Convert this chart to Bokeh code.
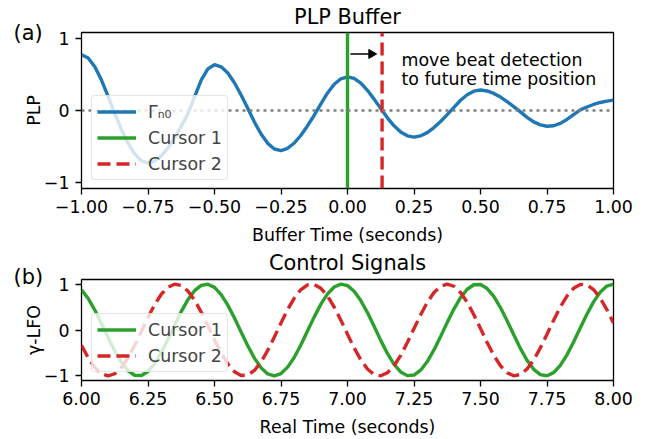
import numpy as np
from bokeh.plotting import figure
from bokeh.layouts import column
from bokeh.models import (Range1d, FixedTicker, Legend, LegendItem, Title, Span)
from bokeh.core.properties import value
from bokeh.embed import file_html
from bokeh.resources import INLINE

FONT = "DejaVu Sans"

# ---------------- data: (a) PLP buffer ----------------
buffer_time = np.linspace(-1.0, 1.0, 81)
plp = [0.780, 0.734, 0.611, 0.426, 0.197, -0.045, -0.264, -0.456, -0.606, -0.702,
       -0.735, -0.706, -0.634, -0.522, -0.381, -0.219, -0.048, 0.192, 0.423, 0.581,
       0.640, 0.611, 0.524, 0.387, 0.217, 0.031, -0.160, -0.329, -0.459, -0.538,
       -0.560, -0.528, -0.454, -0.346, -0.212, -0.066, 0.093, 0.245, 0.366, 0.443,
       0.471, 0.448, 0.382, 0.282, 0.159, 0.027, -0.102, -0.214, -0.300, -0.354,
       -0.371, -0.354, -0.309, -0.239, -0.153, -0.058, 0.043, 0.143, 0.221, 0.270,
       0.286, 0.273, 0.239, 0.188, 0.124, 0.054, -0.020, -0.096, -0.159, -0.201,
       -0.220, -0.213, -0.180, -0.125, -0.057, 0.009, 0.049, 0.084, 0.112, 0.131,
       0.145]
cursor1_pos = 0.0
cursor2_pos = 0.13

# ---------------- data: (b) control signals ----------------
real_time = np.linspace(6.0, 8.0, 81)
lfo_cursor1 = [0.875, 0.687, 0.435, 0.141, -0.166, -0.457, -0.705, -0.887, -0.985, -0.991,
               -0.903, -0.731, -0.489, -0.202, 0.105, 0.401, 0.660, 0.857, 0.973, 0.997,
               0.928, 0.771, 0.542, 0.262, -0.043, -0.344, -0.612, -0.823, -0.957, -1.000,
               -0.949, -0.809, -0.593, -0.321, -0.018, 0.286, 0.563, 0.787, 0.937, 0.999,
               0.967, 0.844, 0.641, 0.379, 0.080, -0.226, -0.511, -0.748, -0.914, -0.994,
               -0.981, -0.875, -0.687, -0.435, -0.141, 0.166, 0.457, 0.705, 0.887, 0.985,
               0.991, 0.903, 0.731, 0.489, 0.202, -0.105, -0.401, -0.660, -0.857, -0.973,
               -0.997, -0.928, -0.771, -0.542, -0.262, 0.043, 0.344, 0.612, 0.823, 0.957,
               1.000]
lfo_cursor2 = [-0.332, -0.603, -0.816, -0.953, -1.000, -0.953, -0.816, -0.603, -0.332, -0.031,
               0.274, 0.552, 0.779, 0.932, 0.998, 0.970, 0.850, 0.651, 0.390, 0.092,
               -0.214, -0.500, -0.739, -0.908, -0.992, -0.983, -0.881, -0.696, -0.446, -0.153,
               0.153, 0.446, 0.696, 0.881, 0.983, 0.992, 0.908, 0.739, 0.500, 0.214,
               -0.092, -0.390, -0.651, -0.850, -0.970, -0.998, -0.932, -0.779, -0.552, -0.274,
               0.031, 0.332, 0.603, 0.816, 0.953, 1.000, 0.953, 0.816, 0.603, 0.332,
               0.031, -0.274, -0.552, -0.779, -0.932, -0.998, -0.970, -0.850, -0.651, -0.390,
               -0.092, 0.214, 0.500, 0.739, 0.908, 0.992, 0.983, 0.881, 0.696, 0.446,
               0.153]

# ---------------- ticks ----------------
buffer_ticks = [-1.0, -0.75, -0.5, -0.25, 0.0, 0.25, 0.5, 0.75, 1.0]
buffer_tick_labels = ["\u22121.00", "\u22120.75", "\u22120.50", "\u22120.25", "0.00",
                      "0.25", "0.50", "0.75", "1.00"]
real_ticks = [6.0, 6.25, 6.5, 6.75, 7.0, 7.25, 7.5, 7.75, 8.0]
real_tick_labels = ["6.00", "6.25", "6.50", "6.75", "7.00", "7.25", "7.50", "7.75", "8.00"]
y_ticks = [-1, 0, 1]
y_tick_labels = ["\u22121", "0", "1"]

BLUE = "#1f77b4"
GREEN = "#2ca02c"
RED = "#d62728"
LW = 3.4
TICK_FS = "17.4px"
TITLE_FS = "20.9px"


def add_titles(p, panel_text, title_text, panel_standoff, title_standoff):
    # first added sits closest to the frame
    t_panel = Title(text=panel_text, align="left", offset=-68, standoff=panel_standoff,
                    text_font=FONT, text_font_size=TITLE_FS, text_font_style="normal",
                    text_color="black")
    p.add_layout(t_panel, "above")
    t_main = Title(text=title_text, align="center", standoff=title_standoff,
                   text_font=FONT, text_font_size=TITLE_FS, text_font_style="normal",
                   text_color="black")
    p.add_layout(t_main, "above")


def style(p, xlabel, ylabel, xticks, xlabels):
    p.xaxis.axis_label = xlabel
    p.yaxis.axis_label = ylabel
    for ax in (p.xaxis[0], p.yaxis[0]):
        ax.axis_label_text_font = FONT
        ax.axis_label_text_font_size = TICK_FS
        ax.axis_label_text_font_style = "normal"
        ax.major_label_text_font = FONT
        ax.major_label_text_font_size = TICK_FS
        ax.major_tick_out = 6
        ax.major_tick_in = 0
        ax.minor_tick_out = 0
        ax.minor_tick_in = 0
        ax.axis_line_color = None
        ax.major_tick_line_width = 1.3
        ax.major_tick_line_color = "black"
        ax.major_label_text_color = "black"
        ax.axis_label_text_color = "black"
    p.xaxis[0].major_label_standoff = 5
    p.xaxis[0].axis_label_standoff = 9
    p.yaxis[0].major_label_standoff = 6
    p.yaxis[0].axis_label_standoff = -3
    p.xaxis[0].ticker = FixedTicker(ticks=xticks)
    p.xaxis[0].major_label_overrides = dict(zip(xticks, xlabels))
    p.yaxis[0].ticker = FixedTicker(ticks=y_ticks)
    p.yaxis[0].major_label_overrides = dict(zip(y_ticks, y_tick_labels))
    p.xgrid.visible = False
    p.ygrid.visible = False
    p.outline_line_color = "black"
    p.outline_line_width = 1.3
    p.outline_line_alpha = 1.0
    p.background_fill_color = "white"
    p.border_fill_color = "white"


def make_legend(items):
    lg = Legend(items=items, location=(10, 8))
    lg.label_text_font = FONT
    lg.label_text_font_size = TICK_FS
    lg.glyph_width = 39
    lg.glyph_height = 21
    lg.label_height = 21
    lg.label_standoff = 12
    lg.spacing = 5
    lg.padding = 5
    lg.margin = 0
    lg.border_line_color = "#cccccc"
    lg.border_line_width = 1.3
    lg.border_radius = 4
    lg.background_fill_color = "white"
    lg.background_fill_alpha = 0.8
    return lg


# ---------------- (a) ----------------
y1_lo, y1_hi = -1.09, 1.09
p1 = figure(width=659, height=250, output_backend="svg", toolbar_location=None,
            title=None, x_range=Range1d(-1.0, 1.0), y_range=Range1d(y1_lo, y1_hi),
            min_border_left=81, min_border_right=46, min_border_top=32, min_border_bottom=62)
style(p1, "Buffer Time (seconds)", "PLP", buffer_ticks, buffer_tick_labels)
add_titles(p1, "(a)", "PLP Buffer", -24, 3)

r_plp = p1.line(buffer_time, plp, line_color=BLUE, line_width=LW)
p1.add_layout(Span(location=0, dimension="width", line_color="gray",
                   line_dash="3 4", line_width=2.6))
r_c1 = p1.line([cursor1_pos, cursor1_pos], [y1_lo, y1_hi], line_color=GREEN, line_width=LW)
r_c2 = p1.line([cursor2_pos, cursor2_pos], [y1_lo, y1_hi], line_color=RED, line_width=LW,
               line_dash="13 6")

# annotation arrow (shaft + head) and text
p1.segment(x0=[0.011], y0=[0.79], x1=[0.09], y1=[0.79], line_color="black", line_width=1.5)
p1.scatter(x=[0.090], y=[0.79], marker="triangle", size=9, angle=-np.pi / 2,
           fill_color="black", line_color="black", line_width=1)
p1.text(x=[0.203, 0.203], y=[0.709, 0.438],
        text=["move beat detection", "to future time position"],
        text_font=value(FONT), text_font_size=value(TICK_FS),
        text_align="left", text_baseline="alphabetic", text_color="black")

p1.add_layout(make_legend([
    LegendItem(label="\u0393\u2099\u2080", renderers=[r_plp]),
    LegendItem(label="Cursor 1", renderers=[r_c1]),
    LegendItem(label="Cursor 2", renderers=[r_c2]),
]))

# ---------------- (b) ----------------
p2 = figure(width=659, height=189, output_backend="svg", toolbar_location=None,
            title=None, x_range=Range1d(6.0, 8.0), y_range=Range1d(-1.1, 1.1),
            min_border_left=81, min_border_right=46, min_border_top=29, min_border_bottom=56)
style(p2, "Real Time (seconds)", "\u03b3-LFO", real_ticks, real_tick_labels)
add_titles(p2, "(b)", "Control Signals", -18, -6)

r_l1 = p2.line(real_time, lfo_cursor1, line_color=GREEN, line_width=LW)
r_l2 = p2.line(real_time, lfo_cursor2, line_color=RED, line_width=LW, line_dash="13 6")
p2.add_layout(make_legend([
    LegendItem(label="Cursor 1", renderers=[r_l1]),
    LegendItem(label="Cursor 2", renderers=[r_l2]),
]))

layout = column(p1, p2, spacing=0)
open("out.html", "w").write(file_html(layout, INLINE))
